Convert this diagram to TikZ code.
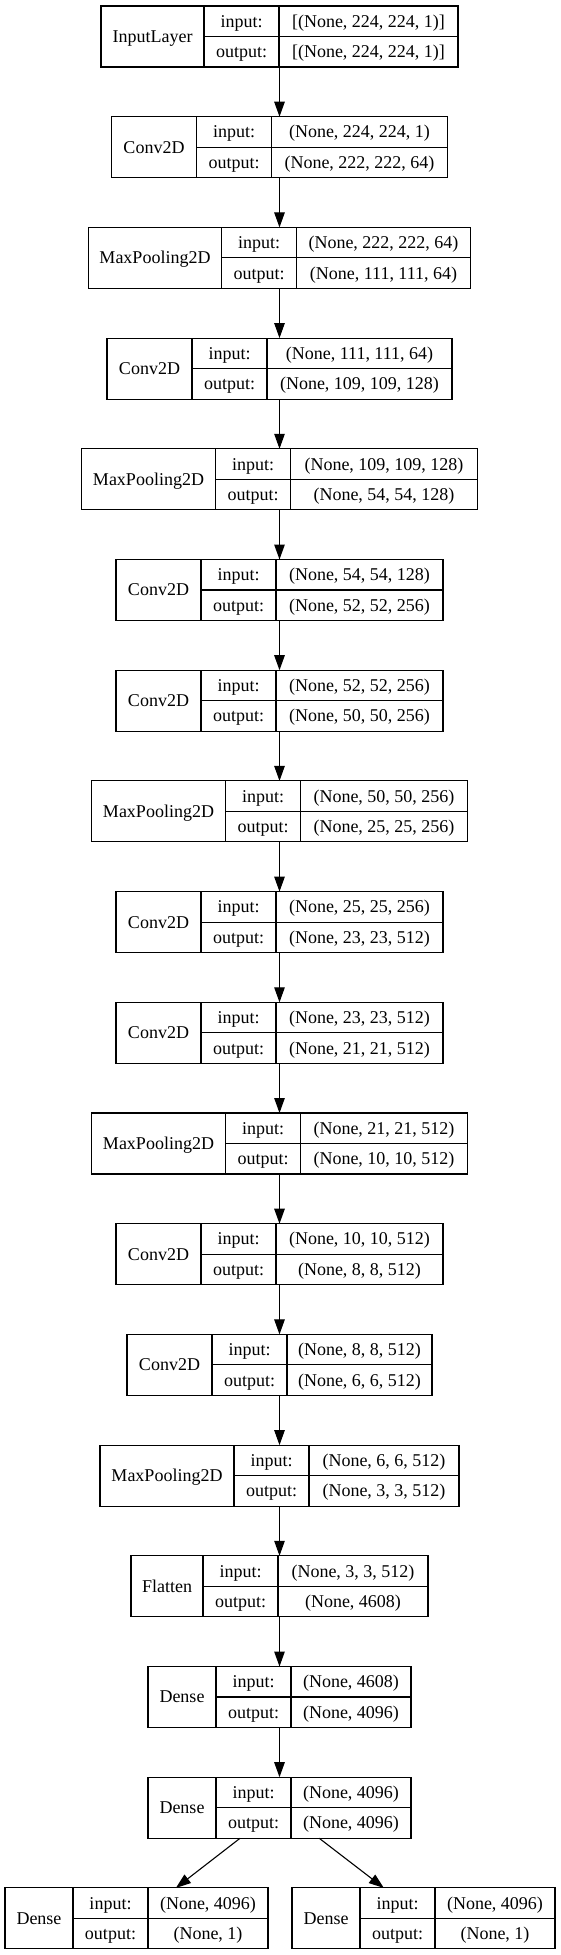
\documentclass[tikz,border=0pt]{standalone}
\usepackage{fontspec}
\setmainfont{Liberation Serif}
\usetikzlibrary{arrows.meta}
\tikzset{
  layerbox/.style={draw, line width=1.1pt, rectangle, minimum height=61pt, inner sep=0pt, outer sep=0pt},
  celltext/.style={inner sep=0pt, text height=11.9pt, text depth=0pt, font=\fontsize{18}{20}\selectfont},
  cellline/.style={line width=1.1pt},
  arr/.style={-{Triangle[length=15pt,width=10.5pt]}, line width=1.1pt},
}
% #1 id, #2 row, #3 name width, #4 label width, #5 shape width, #6 name, #7 input, #8 output, #9 centre x
\newcommand{\mklayer}[9]{%
  \pgfmathsetmacro{\tw}{#3+#4+#5}%
  \pgfmathsetmacro{\cy}{36.5+#2*110.7}%
  \pgfmathsetmacro{\yt}{\cy-30.5}%
  \pgfmathsetmacro{\yb}{\cy+30.5}%
  \pgfmathsetmacro{\xl}{#9-\tw/2}%
  \pgfmathsetmacro{\xa}{\xl+#3}%
  \pgfmathsetmacro{\xb}{\xa+#4}%
  \pgfmathsetmacro{\xr}{\xl+\tw}%
  \pgfmathsetmacro{\xn}{(\xl+\xa)/2}%
  \pgfmathsetmacro{\xlab}{(\xa+\xb)/2}%
  \pgfmathsetmacro{\xs}{(\xb+\xr)/2}%
  \pgfmathsetmacro{\yi}{\cy-15.25}%
  \pgfmathsetmacro{\yo}{\cy+15.25}%
  \node[layerbox, minimum width=\tw pt] (#1) at (#9,\cy) {};
  \draw[cellline] (\xa,\yt) -- (\xa,\yb) (\xb,\yt) -- (\xb,\yb) (\xa,\cy) -- (\xr,\cy);
  \node[celltext] (#1-n) at (\xn,\cy) {#6};
  \node[celltext] (#1-il) at (\xlab,\yi) {input:};
  \node[celltext] (#1-ol) at (\xlab,\yo) {output:};
  \node[celltext] (#1-iv) at (\xs,\yi) {#7};
  \node[celltext] (#1-ov) at (\xs,\yo) {#8};
}
\begin{document}
\begin{tikzpicture}[x=1pt,y=-1pt]
\useasboundingbox (0,0) rectangle (560,1955);
\mklayer{L1}{0}{103}{75}{179}{InputLayer}{[(None, 224, 224, 1)]}{[(None, 224, 224, 1)]}{279.5}
\mklayer{L2}{1}{85}{75}{176}{Conv2D}{(None, 224, 224, 1)}{(None, 222, 222, 64)}{279.5}
\mklayer{L3}{2}{133}{75}{174}{MaxPooling2D}{(None, 222, 222, 64)}{(None, 111, 111, 64)}{279.5}
\mklayer{L4}{3}{85}{75}{185}{Conv2D}{(None, 111, 111, 64)}{(None, 109, 109, 128)}{279.5}
\mklayer{L5}{4}{134}{75}{187}{MaxPooling2D}{(None, 109, 109, 128)}{(None, 54, 54, 128)}{279.5}
\mklayer{L6}{5}{85}{75}{167}{Conv2D}{(None, 54, 54, 128)}{(None, 52, 52, 256)}{279.5}
\mklayer{L7}{6}{85}{75}{167}{Conv2D}{(None, 52, 52, 256)}{(None, 50, 50, 256)}{279.5}
\mklayer{L8}{7}{134}{75}{167}{MaxPooling2D}{(None, 50, 50, 256)}{(None, 25, 25, 256)}{279.5}
\mklayer{L9}{8}{85}{75}{167}{Conv2D}{(None, 25, 25, 256)}{(None, 23, 23, 512)}{279.5}
\mklayer{L10}{9}{85}{75}{167}{Conv2D}{(None, 23, 23, 512)}{(None, 21, 21, 512)}{279.5}
\mklayer{L11}{10}{134}{75}{167}{MaxPooling2D}{(None, 21, 21, 512)}{(None, 10, 10, 512)}{279.5}
\mklayer{L12}{11}{85}{75}{167}{Conv2D}{(None, 10, 10, 512)}{(None, 8, 8, 512)}{279.5}
\mklayer{L13}{12}{85}{75}{145}{Conv2D}{(None, 8, 8, 512)}{(None, 6, 6, 512)}{279.5}
\mklayer{L14}{13}{134}{75}{150}{MaxPooling2D}{(None, 6, 6, 512)}{(None, 3, 3, 512)}{279.5}
\mklayer{L15}{14}{72}{75}{150}{Flatten}{(None, 3, 3, 512)}{(None, 4608)}{279.5}
\mklayer{L16}{15}{68}{75}{120}{Dense}{(None, 4608)}{(None, 4096)}{279.5}
\mklayer{L17}{16}{68}{75}{120}{Dense}{(None, 4096)}{(None, 4096)}{279.5}
\mklayer{L18}{17}{68}{75}{120}{Dense}{(None, 4096)}{(None, 1)}{136.5}
\mklayer{L19}{17}{68}{75}{120}{Dense}{(None, 4096)}{(None, 1)}{423.5}
\draw[arr] (L1) -- (L2);
\draw[arr] (L2) -- (L3);
\draw[arr] (L3) -- (L4);
\draw[arr] (L4) -- (L5);
\draw[arr] (L5) -- (L6);
\draw[arr] (L6) -- (L7);
\draw[arr] (L7) -- (L8);
\draw[arr] (L8) -- (L9);
\draw[arr] (L9) -- (L10);
\draw[arr] (L10) -- (L11);
\draw[arr] (L11) -- (L12);
\draw[arr] (L12) -- (L13);
\draw[arr] (L13) -- (L14);
\draw[arr] (L14) -- (L15);
\draw[arr] (L15) -- (L16);
\draw[arr] (L16) -- (L17);
\draw[arr] (L17) -- (L18);
\draw[arr] (L17) -- (L19);
\end{tikzpicture}
\end{document}
